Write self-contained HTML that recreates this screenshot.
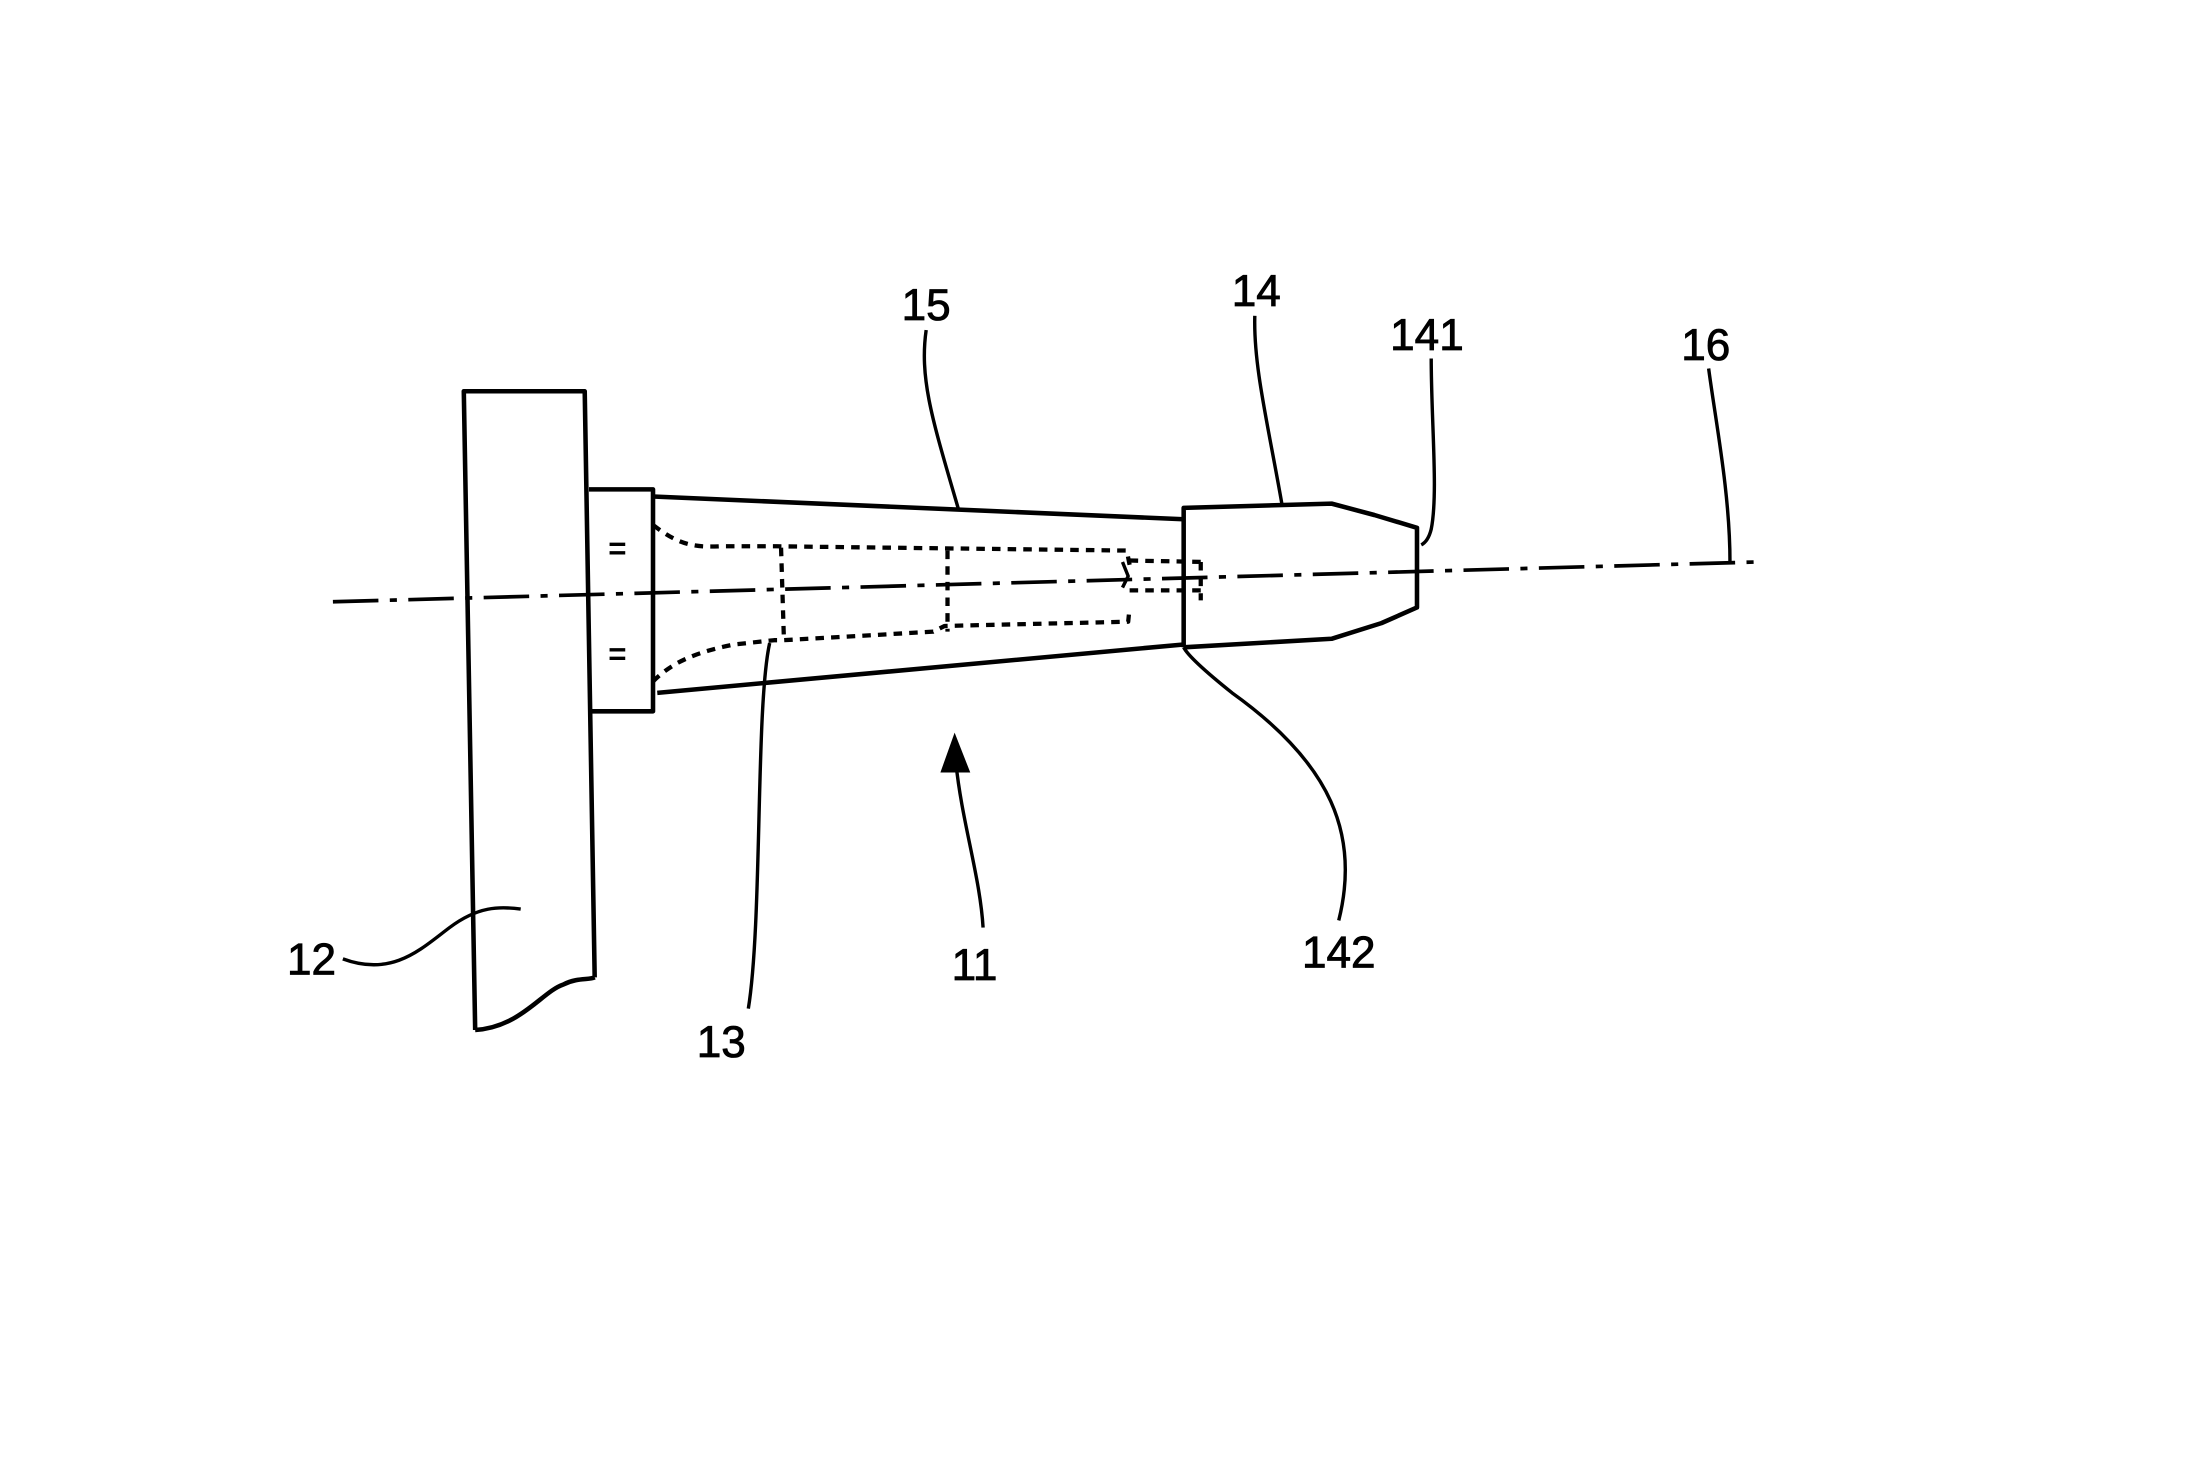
<!DOCTYPE html>
<html><head><style>html,body{margin:0;padding:0;background:#fff}svg{display:block}</style></head>
<body>
<svg width="2208" height="1476" viewBox="0 0 1552 1037.5" preserveAspectRatio="none" xmlns="http://www.w3.org/2000/svg">
<g transform="translate(-4,-3)">
<g fill="none" stroke="#000" stroke-width="3.2" stroke-linejoin="round">
<path d="M338,727 L330,278 L415,278 L422,690"/>
<path d="M338,727 C370,725 385,700 400,695 C410,690 418,692 422,690"/>
<path d="M418,347 L463,347 L463,503 L420,503"/>
<path d="M463,352 L836,368 M466,490 L836,456"/>
<path d="M836,458 L836,360 L940,357 L970,365 L1000,374 L1000,430 L975,441 L940,452 L836,458"/>
<path d="M238,426 L1240,398" stroke-dasharray="32,8,5,8" stroke-width="2.6"/>
<g stroke-dasharray="6,5" stroke-width="3">
<path d="M463,372 C480,385 490,388 510,387 L550,387 L796,390 L798,400"/>
<path d="M463,482 C475,470 490,462 520,456 L548,453 L555,453 L660,447 L668,443 L797,440 L798,430"/>
<path d="M553,388 L555,452 M670,390 L670,447"/>
<path d="M798,397 L850,398 M798,418 L850,418 M848,398 L848,425"/>
</g>
<path d="M793,398 L797,408 L793,416" stroke-width="2.4"/>
<g stroke-width="2.4">
<path d="M655,235 C650,270 660,300 678,362"/>
<path d="M886,225 C885,260 895,300 905,357"/>
<path d="M1010,255 C1010,300 1015,350 1010,375 C1008,383 1005,385 1003,386"/>
<path d="M1205,262 C1210,300 1220,350 1220,398"/>
<path d="M245,677 C280,690 300,670 320,655 C340,640 355,640 370,642"/>
<path d="M530,712 C540,650 535,500 545,455"/>
<path d="M695,655 C693,620 680,580 676,540"/>
<path d="M945,650 C960,590 940,540 870,490 C845,470 838,462 836,458"/>
</g>
</g>
<polygon points="675,518 665,546 686,546" fill="#000"/>
<g font-family="Liberation Sans, sans-serif" font-size="22" font-weight="bold" text-anchor="middle">
<text x="438" y="396">=</text><text x="438" y="470">=</text>
</g>
<g font-family="Liberation Sans, sans-serif" font-size="31" text-anchor="middle" stroke="#000" stroke-width="0.6">
<text x="655" y="228">15</text>
<text x="887" y="218">14</text>
<text x="1007" y="249">141</text>
<text x="1203" y="256">16</text>
<text x="223" y="688">12</text>
<text x="511" y="746">13</text>
<text x="689" y="692">11</text>
<text x="945" y="683">142</text>
</g>
</g>
</svg>
</body></html>
